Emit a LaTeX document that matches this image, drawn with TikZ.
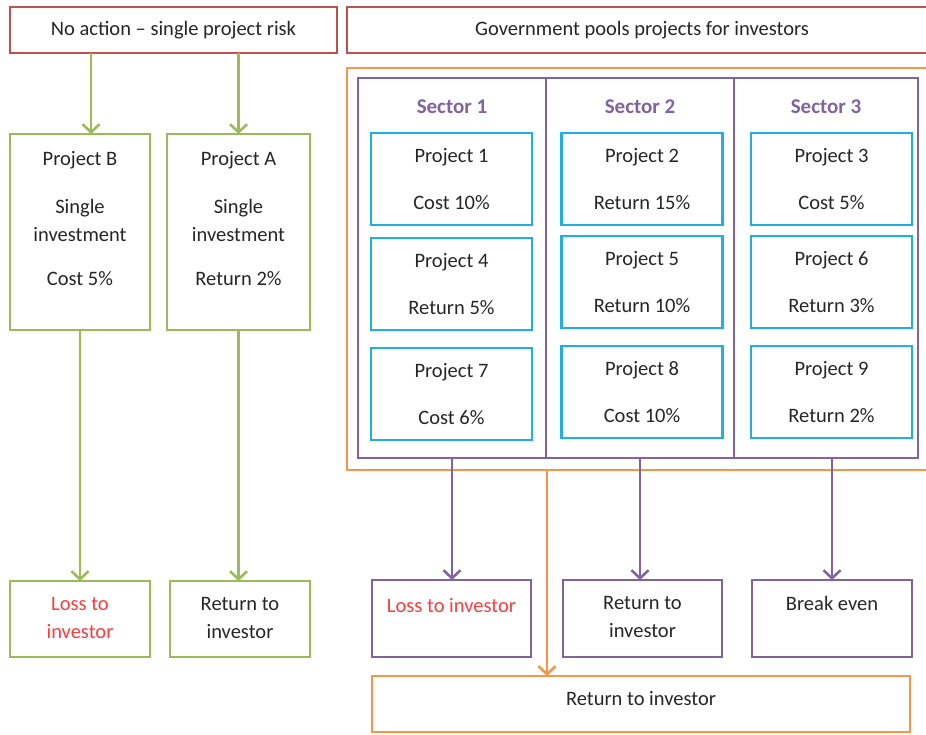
\documentclass[tikz,border=0pt]{standalone}
\usepackage{fontspec}
\setmainfont{Carlito}
\usepackage{xcolor}
\usetikzlibrary{positioning,arrows.meta}

\definecolor{boxred}{HTML}{C0504D}
\definecolor{boxgreen}{HTML}{9BBB59}
\definecolor{boxpurple}{HTML}{8064A2}
\definecolor{boxblue}{HTML}{1FAEE6}
\definecolor{boxorange}{HTML}{F79646}
\definecolor{lossred}{HTML}{FF3B3B}
\definecolor{inktext}{HTML}{262626}

\begin{document}
\begin{tikzpicture}[x=1pt,y=-1pt,
    every node/.style={font=\fontsize{20.5}{28}\selectfont, text=inktext, outer sep=0pt},
    frame/.style={draw, line width=2.6pt, inner sep=0pt},
    body/.style={inner sep=0pt, align=center},
    title/.style={inner sep=0pt, text=boxpurple, font=\fontsize{21}{27}\selectfont\bfseries},
    link/.style={line width=2.6pt, -{Straight Barb[length=8pt,width=17pt]}}]
            \clip (0,0) rectangle (926,734);

            % Single project side
            \node[frame, draw=boxred, minimum width=327, minimum height=46] (noact) at (173.5,30) {No action – single project risk};
            \node[frame, draw=boxgreen, minimum width=140, minimum height=196] (pB) at (80,232) {};
            \node[frame, draw=boxgreen, minimum width=143, minimum height=196] (pA) at (238.5,232) {};
            \node[body, below=17pt of pB.north] (pBtext) {Project B\\[20pt]Single\\investment\\[16pt]Cost 5\%};
            \node[body, below=17pt of pA.north] (pAtext) {Project A\\[20pt]Single\\investment\\[16pt]Return 2\%};
            \node[frame, draw=boxgreen, minimum width=140, minimum height=76] (lossB) at (80,619) {};
            \node[frame, draw=boxgreen, minimum width=140, minimum height=76] (retA) at (240,619) {};
            \node[body, text=lossred, below=16pt of lossB.north] (lossBtext) {Loss to\\investor};
            \node[body, below=16pt of retA.north] (retAtext) {Return to\\investor};

            % Pooled side
            \node[frame, draw=boxred, minimum width=590, minimum height=46, anchor=west] (gov) at (347,30) {Government pools projects for investors};
            \node[frame, draw=boxorange, minimum width=600, minimum height=402, anchor=north west] (pool) at (347,68) {};
            \node[frame, draw=boxpurple, minimum width=188, minimum height=380, anchor=north west] (s1) at (358,78) {};
            \node[frame, draw=boxpurple, minimum width=188, minimum height=380, anchor=north west] (s2) at (546,78) {};
            \node[frame, draw=boxpurple, minimum width=184, minimum height=380, anchor=north west] (s3) at (734,78) {};
            \node[title, below=22pt of s1.north] (s1title) {Sector 1};
            \node[title, below=22pt of s2.north] (s2title) {Sector 2};
            \node[title, below=22pt of s3.north] (s3title) {Sector 3};

            % Projects
            \foreach \n/\x/\y/\val in {1/451.5/133/Cost 10\%, 2/642/133/Return 15\%, 3/831.5/133/Cost 5\%,
                                       4/451.5/238/Return 5\%, 5/642/236/Return 10\%, 6/831.5/236/Return 3\%,
                                       7/451.5/348/Cost 6\%, 8/642/346/Cost 10\%, 9/831.5/346/Return 2\%}{
                \node[frame, draw=boxblue, minimum width=161, minimum height=92, anchor=north] (p\n) at (\x,\y) {};
                \node[body, below=15pt of p\n.north] (p\n text) {Project \n\\[19pt]\val};
            }

            % Outcomes
            \node[frame, draw=boxpurple, minimum width=159, minimum height=77, anchor=north] (o1) at (451.5,580) {};
            \node[frame, draw=boxpurple, minimum width=159, minimum height=77, anchor=north] (o2) at (642.5,580) {};
            \node[frame, draw=boxpurple, minimum width=160, minimum height=77, anchor=north] (o3) at (832,580) {};
            \node[body, text=lossred, below=18pt of o1.north] (o1text) {Loss to investor};
            \node[body, below=16pt of o2.north] (o2text) {Return to\\investor};
            \node[body, below=16pt of o3.north] (o3text) {Break even};
            \node[frame, draw=boxorange, minimum width=538, minimum height=56, anchor=north west] (ret) at (372,676) {};
            \node[body, below=15pt of ret.north] (rettext) {Return to investor};

            % Arrows
            \coordinate (aB) at (91,0);
            \coordinate (aP) at (547,0);
            \draw[link, draw=boxgreen] (noact.south -| aB) -- (pB.north -| aB);
            \draw[link, draw=boxgreen] (noact.south -| pA.north) -- (pA.north);
            \draw[link, draw=boxgreen] (pB.south) -- (lossB.north);
            \draw[link, draw=boxgreen] (pA.south) -- (pA.south |- retA.north);
            \draw[link, draw=boxpurple] (s1.south) -- (s1.south |- o1.north);
            \draw[link, draw=boxpurple] (s2.south) -- (s2.south |- o2.north);
            \draw[link, draw=boxpurple] (o3.north |- s3.south) -- (o3.north);
            \draw[link, draw=boxorange] (pool.south -| aP) -- (ret.north -| aP);

        \end{tikzpicture}
\end{document}
